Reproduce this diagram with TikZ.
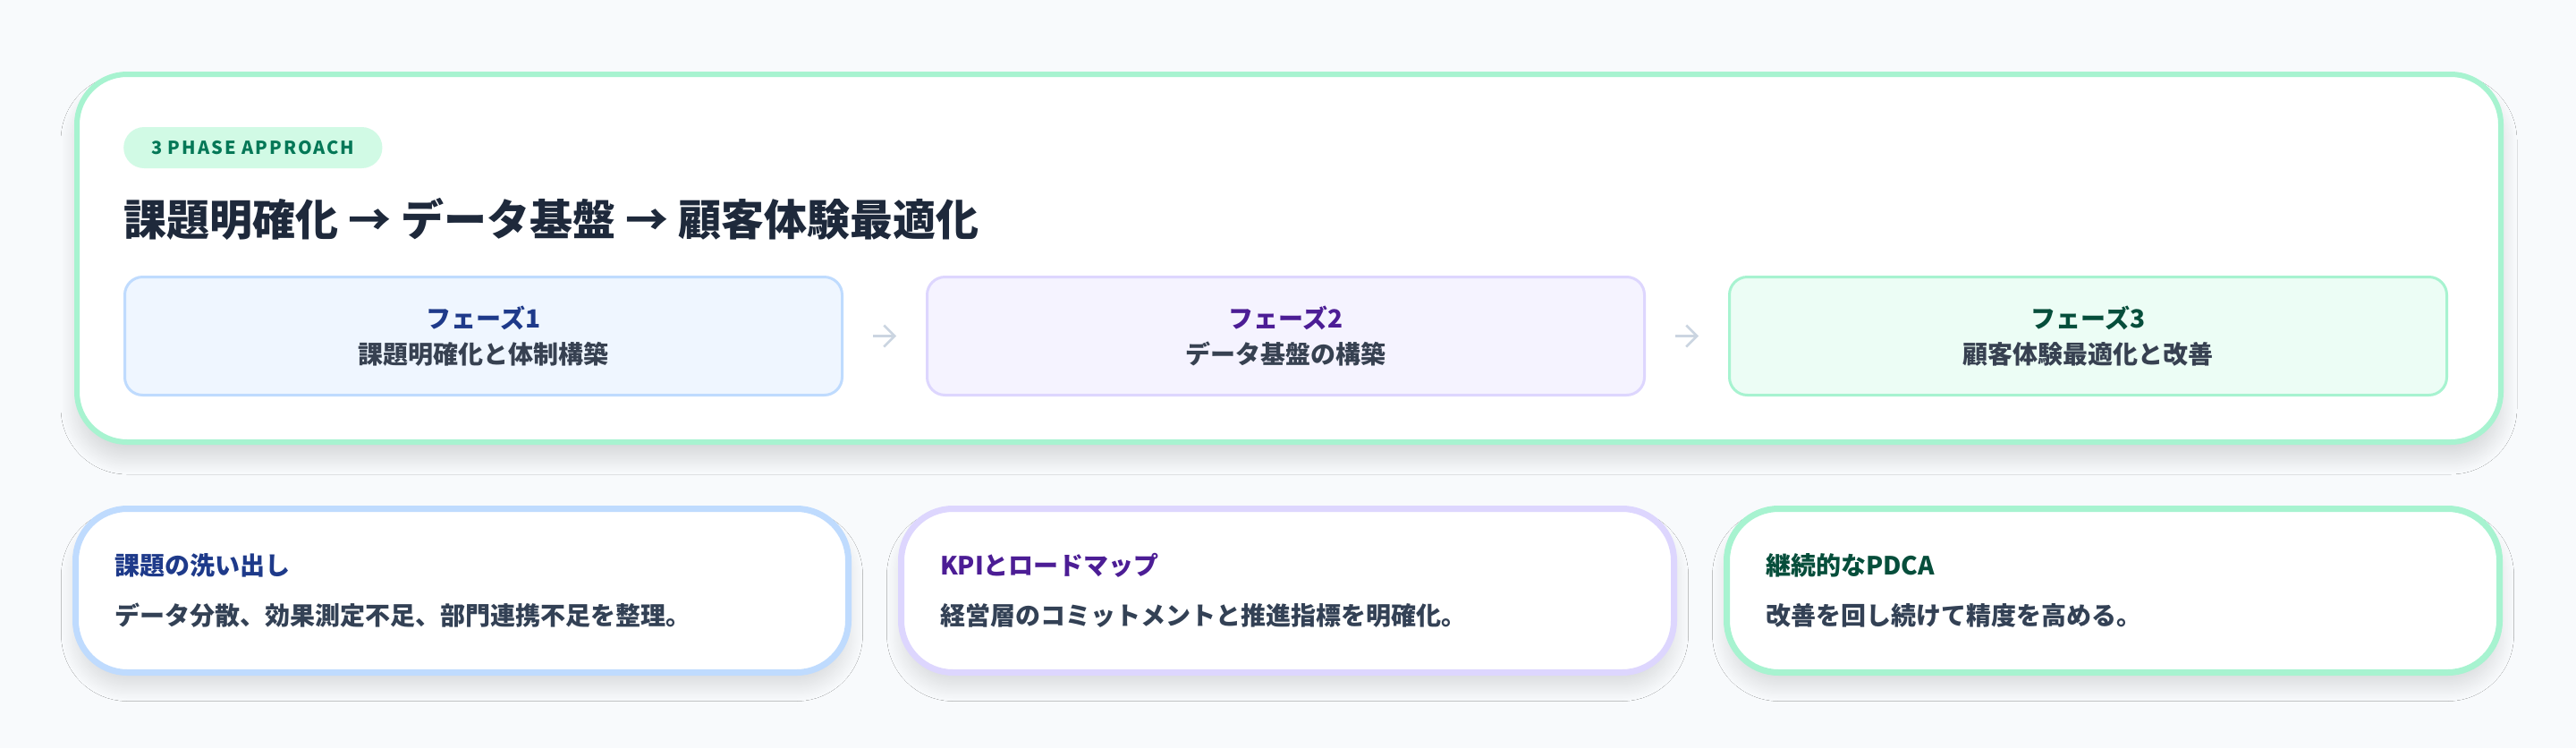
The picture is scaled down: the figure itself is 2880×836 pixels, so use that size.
\documentclass[tikz,border=0pt]{standalone}
\usepackage{fontspec}
\setmainfont{Noto Sans CJK JP}
\newfontfamily\tagfont{Noto Sans CJK JP}[LetterSpace=10]
\usetikzlibrary{positioning,arrows.meta,shadows.blur}
\usepackage{xcolor}
\definecolor{canvas}{HTML}{F8FAFC}
\definecolor{mint}{HTML}{A7F3D0}
\definecolor{mintpale}{HTML}{D1FAE5}
\definecolor{mint50}{HTML}{ECFDF5}
\definecolor{mint900}{HTML}{064E3B}
\definecolor{tagink}{HTML}{047857}
\definecolor{blue50}{HTML}{EFF6FF}
\definecolor{blue200}{HTML}{BFDBFE}
\definecolor{blue900}{HTML}{1E3A8A}
\definecolor{violet50}{HTML}{F5F3FF}
\definecolor{violet200}{HTML}{DDD6FE}
\definecolor{violet900}{HTML}{4C1D95}
\definecolor{slateink}{HTML}{1E293B}
\definecolor{grayink}{HTML}{374151}
\definecolor{bodyink}{HTML}{334155}
\definecolor{arrowgray}{HTML}{CBD5E1}

\begin{document}
\begin{tikzpicture}[x=1pt,y=-1pt,%
    panel/.style={draw=mint,line width=6pt,fill=white,rounded corners=56pt,minimum width=2710pt,minimum height=411pt,
                  blur shadow={shadow xshift=0pt,shadow yshift=-18pt,shadow blur radius=18pt,shadow blur steps=24,shadow opacity=14}},
    tag/.style={fill=mintpale,text=tagink,rounded corners=23pt,minimum height=46pt,inner xsep=31pt,inner ysep=0pt,
                font=\tagfont\fontsize{20pt}{24pt}\selectfont\bfseries,anchor=west},
    headline/.style={text=slateink,font=\fontsize{48pt}{56pt}\selectfont\bfseries,inner sep=0pt,anchor=west},
    phase/.style={line width=3pt,rounded corners=20pt,minimum width=802pt,minimum height=132pt,align=center,
                  text=grayink,font=\fontsize{28pt}{40pt}\selectfont\bfseries},
    flow/.style={-{Straight Barb[length=12pt,width=24pt]},line width=2.5pt,draw=arrowgray,shorten >=33pt,shorten <=33pt},
    card/.style={line width=7pt,fill=white,rounded corners=58pt,minimum width=864pt,minimum height=183pt,
                 text width=777pt,inner xsep=43.5pt,align=left,text=bodyink,font=\fontsize{28pt}{56pt}\selectfont\bfseries,
                 blur shadow={shadow xshift=0pt,shadow yshift=-16pt,shadow blur radius=16pt,shadow blur steps=24,shadow opacity=12}}]

    \useasboundingbox (0,0) rectangle (2880,836);
    \fill[canvas] (0,0) rectangle (2880,836);

    \node[panel] (frame) at (1441,288.5) {};
    \node[tag] (badge) at (138,165) {3 PHASE APPROACH};
    \node[headline] (head) at (138,245) {課題明確化 → データ基盤 → 顧客体験最適化};

    % phases inside the frame
    \foreach \bg/\rim/\ink/\stage/\goal [count=\y] in {%
       blue50/blue200/blue900/フェーズ1/課題明確化と体制構築,%
       violet50/violet200/violet900/フェーズ2/データ基盤の構築,%
       mint50/mint/mint900/フェーズ3/顧客体験最適化と改善%
       } { \ifnum\y=1 \node[phase,fill=\bg,draw=\rim](ph\y) at (540.5,375.5) {{\color{\ink}\stage}\\\goal};
           \else\node[phase,fill=\bg,draw=\rim,right=92pt of ph\z](ph\y) {{\color{\ink}\stage}\\\goal};
           \draw[flow] (ph\z) -- (ph\y);
           \fi
           \global\let\z=\y% previous phase
       }

    % detail cards
    \foreach \rim/\ink/\topic/\note [count=\y] in {%
       blue200/blue900/課題の洗い出し/データ分散、効果測定不足、部門連携不足を整理。,%
       violet200/violet900/KPIとロードマップ/経営層のコミットメントと推進指標を明確化。,%
       mint/mint900/継続的なPDCA/改善を回し続けて精度を高める。%
       } { \ifnum\y=1 \node[card,draw=\rim](cd\y) at (516.5,660) {{\color{\ink}\topic}\\\note};
           \else\node[card,draw=\rim,right=52pt of cd\z](cd\y) {{\color{\ink}\topic}\\\note};
           \fi
           \global\let\z=\y
       }

\end{tikzpicture}
\end{document}
